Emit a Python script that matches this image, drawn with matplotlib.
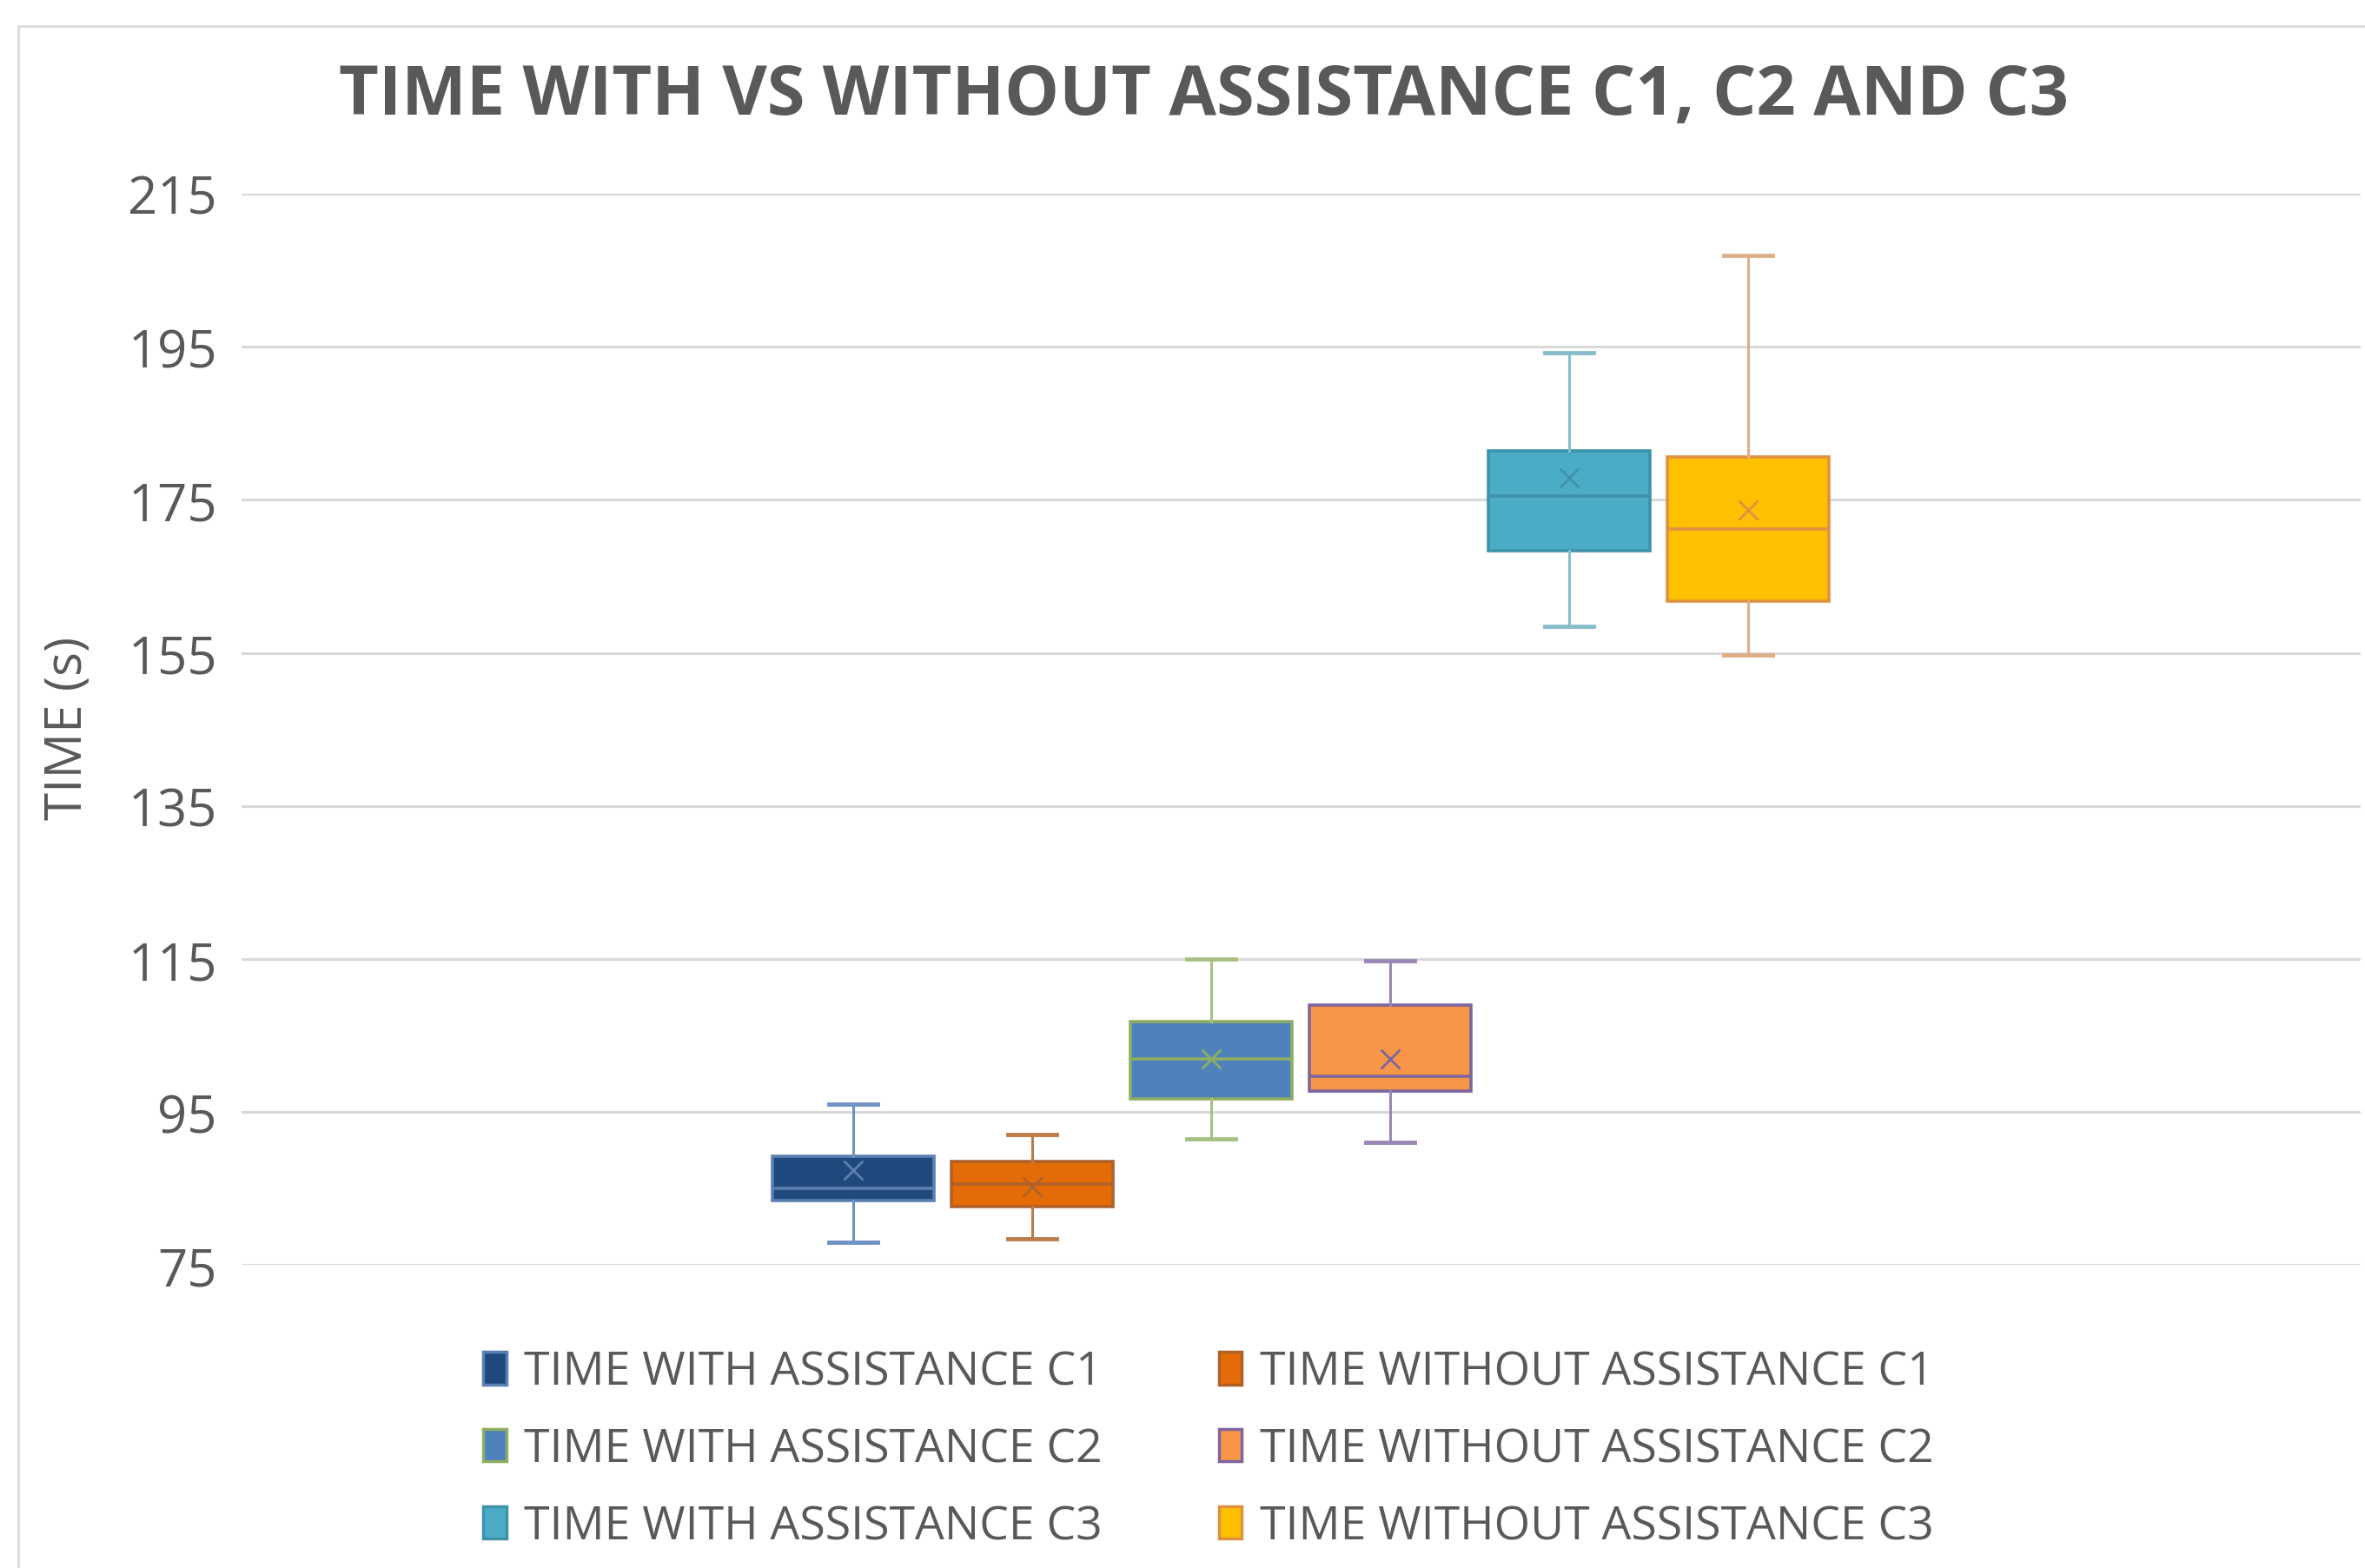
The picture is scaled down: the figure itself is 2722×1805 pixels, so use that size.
import numpy as np
import matplotlib
matplotlib.use('Agg')
import matplotlib.pyplot as plt
from matplotlib.patches import Patch, Rectangle

plt.rcParams['font.family'] = ['Open Sans', 'DejaVu Sans']

# series (seconds)
labels = ['TIME WITH ASSISTANCE C1', 'TIME WITHOUT ASSISTANCE C1',
          'TIME WITH ASSISTANCE C2', 'TIME WITHOUT ASSISTANCE C2',
          'TIME WITH ASSISTANCE C3', 'TIME WITHOUT ASSISTANCE C3']
whislo = [78.0, 78.5, 91.5, 91.0, 158.5, 154.7]
q1     = [83.4, 82.7, 96.7, 97.7, 168.3, 161.8]
med    = [85.0, 85.6, 102.0, 99.7, 175.5, 171.2]
q3     = [89.2, 88.5, 106.8, 109.0, 181.4, 180.6]
whishi = [96.1, 92.1, 115.0, 114.8, 194.2, 206.9]
means  = [87.4, 85.3, 102.0, 102.0, 177.9, 173.7]
yticks = [75, 95, 115, 135, 155, 175, 195, 215]

fills   = ['#1F497D', '#E36C09', '#4F81BD', '#F79646', '#4BACC6', '#FFC000']
edges   = ['#5A80B2', '#B0612A', '#8DAE62', '#7E65A0', '#3E93AB', '#DE9240']
whiskc  = ['#6F93C2', '#BC7C4A', '#A8C184', '#9A88B4', '#87BDCB', '#DDAF88']

txtc = '#595959'

fig = plt.figure(figsize=(27.22, 18.06), dpi=100)
ax = fig.add_axes([0.102, 0.193, 0.896, 0.683])

# outer chart border (cropped on right and bottom)
fig.patches.append(Rectangle((0.0077, -0.05), 1.2, 1.033, transform=fig.transFigure,
                             fill=False, edgecolor='#D9D9D9', lw=2, zorder=0))

pos = np.arange(len(labels))
for i in range(len(labels)):
    st = dict(whislo=whislo[i], q1=q1[i], med=med[i], q3=q3[i],
              whishi=whishi[i], mean=means[i], fliers=[])
    ax.bxp([st], positions=[pos[i]], widths=0.9, capwidths=0.27,
           showmeans=True, patch_artist=True,
           boxprops=dict(facecolor=fills[i], edgecolor=edges[i], lw=2.6),
           medianprops=dict(color=edges[i], lw=2.6),
           whiskerprops=dict(color=whiskc[i], lw=2.2),
           capprops=dict(color=whiskc[i], lw=3.5),
           meanprops=dict(marker='x', markeredgecolor=edges[i], markersize=16,
                          markeredgewidth=2.0),
           manage_ticks=False, zorder=3)

ax.set_xlim(-3.42, 8.42)
ax.set_ylim(75, 215)
ax.set_yticks(yticks)
ax.set_xticks([])
ax.yaxis.grid(True, color='#D9D9D9', lw=2.2)
ax.set_axisbelow(True)
for s in ax.spines.values():
    s.set_visible(False)
ax.tick_params(axis='y', length=0, labelsize=43, labelcolor=txtc, pad=20)
ax.set_ylabel('TIME (s)', fontsize=42, color=txtc)
ax.yaxis.set_label_coords(-0.0695, 0.502)

fig.text(0.509, 0.938, 'TIME WITH VS WITHOUT ASSISTANCE C1, C2 AND C3',
         ha='center', va='center', fontsize=57, fontweight='bold', color=txtc)

handles = [Patch(facecolor=fills[i], edgecolor=edges[i], lw=2.5) for i in range(6)]
order = [0, 2, 4, 1, 3, 5]
fig.legend([handles[i] for i in order], [labels[i] for i in order],
           loc='center', bbox_to_anchor=(0.511, 0.0755), ncol=2, frameon=False,
           fontsize=38.5, labelcolor=txtc, handlelength=0.49, handleheight=0.7,
           handletextpad=0.39, columnspacing=2.5, labelspacing=0.66)

fig.savefig('out.png', dpi=100, facecolor='white')
